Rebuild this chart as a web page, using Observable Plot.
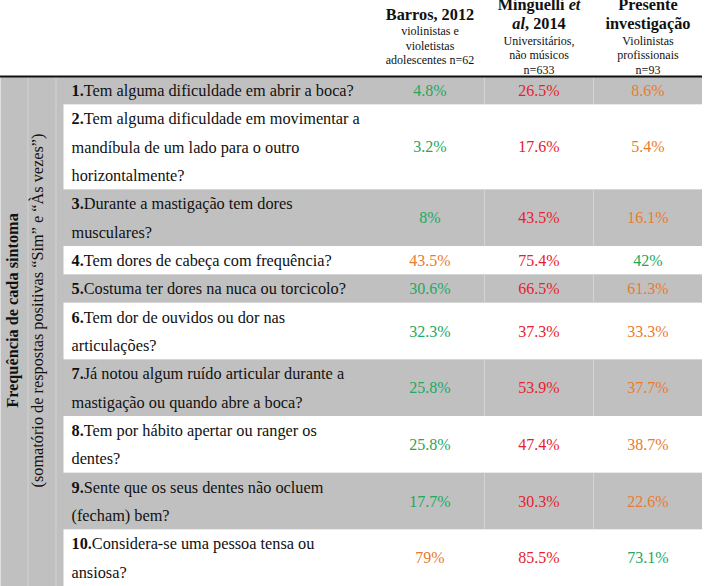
<!DOCTYPE html>
<html><head><meta charset="utf-8">
<script src="https://cdn.jsdelivr.net/npm/d3@7"></script>
<script src="https://cdn.jsdelivr.net/npm/@observablehq/plot@0.6"></script>
<style>
body{margin:0;background:#fff;}
#chart{width:707px;height:586px;overflow:hidden;}
</style>
</head><body><div id="chart"></div>
<script>
// ---- data ----
const studies = ["Barros, 2012", "Minguelli et al, 2014", "Presente investigação"];
const studyTitles = [["Barros, 2012"], ["Minguelli et", "al, 2014"], ["Presente", "investigação"]];
const studySamples = [
  ["violinistas e", "violetistas", "adolescentes n=62"],
  ["Universitários,", "não músicos", "n=633"],
  ["Violinistas", "profissionais", "n=93"]
];
const questions = [
  ["1.Tem alguma dificuldade em abrir a boca?"],
  ["2.Tem alguma dificuldade em movimentar a", "mandíbula de um lado para o outro", "horizontalmente?"],
  ["3.Durante a mastigação tem dores", "musculares?"],
  ["4.Tem dores de cabeça com frequência?"],
  ["5.Costuma ter dores na nuca ou torcicolo?"],
  ["6.Tem dor de ouvidos ou dor nas", "articulações?"],
  ["7.Já notou algum ruído articular durante a", "mastigação ou quando abre a boca?"],
  ["8.Tem por hábito apertar ou ranger os", "dentes?"],
  ["9.Sente que os seus dentes não ocluem", "(fecham) bem?"],
  ["10.Considera-se uma pessoa tensa ou", "ansiosa?"]
];
const barros    = [4.8, 3.2, 8, 43.5, 30.6, 32.3, 25.8, 25.8, 17.7, 79];
const minguelli = [26.5, 17.6, 43.5, 75.4, 66.5, 37.3, 53.9, 47.4, 30.3, 85.5];
const presente  = [8.6, 5.4, 16.1, 42, 61.3, 33.3, 37.7, 38.7, 22.6, 73.1];
const groupLabel = "Frequência de cada sintoma";
const groupNote = "(somatório de respostas positivas “Sim” e “Às vezes”)";
const levels = ["menor", "intermédio", "maior"];

// ---- layout helpers ----
const W = 707, H = 586, TOP = 76, LEFT = 375, RIGHT = 5;
let acc = 0;
const rows = questions.map((lines, i) => {
  const r = {i, lines, y1: acc, y2: acc + lines.length};
  acc += lines.length;
  return r;
});
const totalLines = acc;
const pxPerLine = (H - TOP) / totalLines;
const lineData = rows.flatMap(r => r.lines.map((t, k) => ({text: t, y: r.y1 + k + 0.5})));
const series = [barros, minguelli, presente];
const cells = rows.flatMap(r => {
  const vals = series.map(s => s[r.i]);
  const mn = d3.min(vals), mx = d3.max(vals);
  return studies.map((s, j) => ({
    study: s, value: vals[j], y: (r.y1 + r.y2) / 2,
    nivel: vals[j] === mn ? "menor" : vals[j] === mx ? "maior" : "intermédio"
  }));
});
const headerLines = studies.flatMap((s, j) => {
  const items = [
    ...studyTitles[j].map(t => ({t, kind: "title", h: 19})),
    ...studySamples[j].map(t => ({t, kind: "sample", h: 14.5}))
  ];
  let off = -40 - d3.sum(items, d => d.h) / 2;
  return items.map(d => {
    const o = {study: s, text: d.t, kind: d.kind, y: (off + d.h / 2) / pxPerLine};
    off += d.h;
    return o;
  });
});
const greyRows = rows.filter(r => r.i % 2 === 0);
const greySeps = greyRows.flatMap(r => studies.slice(1).map(s => ({study: s, y1: r.y1, y2: r.y2})));

const grey = "#c0c0c0";
const plot = Plot.plot({
  width: W, height: H,
  marginTop: TOP, marginBottom: 0, marginLeft: LEFT, marginRight: RIGHT,
  style: {fontFamily: "'Liberation Serif','Times New Roman',serif", background: "white", color: "#111"},
  x: {type: "band", domain: studies, padding: 0, axis: null},
  y: {domain: [0, totalLines], reverse: true, axis: null},
  color: {type: "ordinal", domain: levels, range: ["#22a862", "#ea7b2c", "#e8202e"]},
  marks: [
    // left band
    Plot.frame({fill: grey, stroke: null, insetLeft: -LEFT, insetRight: (W - RIGHT) - 63}),
    Plot.frame({fill: "#d2d2d2", stroke: null, insetLeft: -(LEFT - 27), insetRight: (W - RIGHT) - 28}),
    Plot.frame({fill: "#d2d2d2", stroke: null, insetLeft: -(LEFT - 55), insetRight: (W - RIGHT) - 56}),
    // grey rows
    Plot.rect(greyRows, {y1: "y1", y2: "y2", fill: grey, insetLeft: -(LEFT - 63)}),
    Plot.ruleX(greySeps, {x: "study", y1: "y1", y2: "y2", stroke: "#d4d4d4", dx: -(W - LEFT - RIGHT) / 6}),
    // header rule
    Plot.ruleY([0], {stroke: "#111", strokeWidth: 2, insetLeft: -LEFT}),
    // header text
    Plot.text(headerLines.filter(d => d.kind === "title"), {x: "study", y: "y", text: "text", fontWeight: "bold", fontSize: 16.3, fill: "#111"}),
    Plot.text(headerLines.filter(d => d.kind === "sample"), {x: "study", y: "y", text: "text", fontSize: 12, fill: "#111"}),
    // rotated group labels
    Plot.text([groupLabel], {text: d => d, frameAnchor: "left", textAnchor: "middle", dx: 12 - LEFT, dy: -21, rotate: -90, fontWeight: "bold", fontSize: 16.3, fill: "#111"}),
    Plot.text([groupNote], {text: d => d, frameAnchor: "left", textAnchor: "middle", dx: 37 - LEFT, dy: -21, rotate: -90, fontSize: 16.3, fill: "#111"}),
    // questions
    Plot.text(lineData, {y: "y", text: "text", frameAnchor: "left", dx: 71 - LEFT, textAnchor: "start", fontSize: 16.3, fill: "#111"}),
    // values
    Plot.text(cells, {x: "study", y: "y", text: d => d.value + "%", fill: "nivel", fontSize: 16})
  ]
});

// rich text: bold question numbers, italic "et al"
function rebuild(t, parts) {
  while (t.firstChild) t.removeChild(t.firstChild);
  for (const [s, attrs] of parts) {
    const ts = document.createElementNS("http://www.w3.org/2000/svg", "tspan");
    for (const k in attrs) ts.setAttribute(k, attrs[k]);
    ts.textContent = s;
    t.appendChild(ts);
  }
}
plot.querySelectorAll("text").forEach(t => {
  if (t.querySelector("tspan")) return;
  const s = t.textContent;
  const m = s.match(/^(\d+\.)(\D.*)$/);
  if (m) { rebuild(t, [[m[1], {"font-weight": "bold"}], [m[2], {}]]); return; }
  if (s === "Minguelli et") rebuild(t, [["Minguelli ", {}], ["et", {"font-style": "italic"}]]);
  else if (s === "al, 2014") rebuild(t, [["al", {"font-style": "italic"}], [", 2014", {}]]);
});
document.getElementById("chart").appendChild(plot);
</script>
</body></html>
